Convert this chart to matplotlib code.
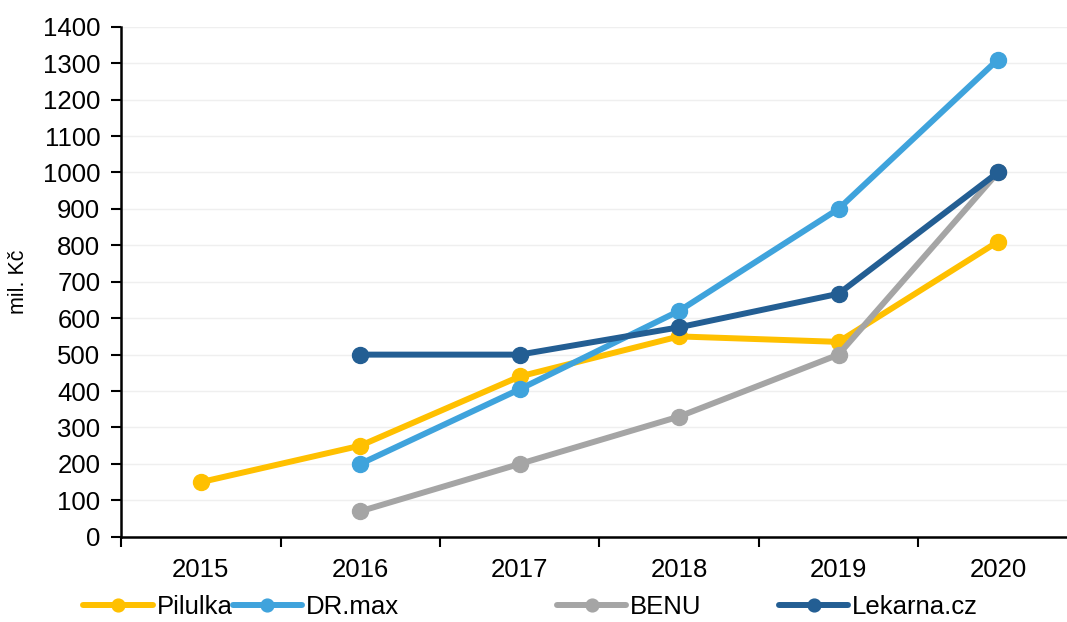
import matplotlib.pyplot as plt
import numpy as np

plt.rcParams['font.family'] = ['Liberation Sans', 'DejaVu Sans']

# data
years = ['2015', '2016', '2017', '2018', '2019', '2020']
pilulka = [150, 250, 440, 550, 535, 810]
drmax = [np.nan, 200, 405, 620, 900, 1310]
benu = [np.nan, 70, 200, 330, 500, 1000]
lekarna = [np.nan, 500, 500, 575, 667, 1000]

series = [
    ('Pilulka', pilulka, '#FFC000'),
    ('DR.max', drmax, '#3FA3DC'),
    ('BENU', benu, '#A5A5A5'),
    ('Lekarna.cz', lekarna, '#235E93'),
]

fig = plt.figure(figsize=(10.67, 6.22), dpi=100)
ax = fig.add_axes([0.1135, 0.137, 0.889, 0.82])

x = np.arange(len(years))
lines = []
for name, vals, col in series:
    ln, = ax.plot(x, vals, color=col, lw=4.3, marker='o', markersize=11.5,
                  label=name, solid_capstyle='round')
    lines.append(ln)

ax.set_ylim(0, 1400)
ax.set_yticks(range(0, 1401, 100))
ax.set_xlim(-0.5, 5.45)
ax.set_xticks(x)
ax.set_xticklabels(years)
ax.set_xticks(np.arange(-0.5, 5.5, 1), minor=True)
ax.tick_params(axis='x', which='major', length=0, pad=15, labelsize=18.5)
ax.tick_params(axis='x', which='minor', length=7, width=1.5, direction='out')
ax.tick_params(axis='y', length=7, width=1.5, direction='out', labelsize=18.5, pad=8)
ax.grid(axis='y', color='#EFEFEF', lw=1)
ax.set_axisbelow(True)

for s in ['top', 'right']:
    ax.spines[s].set_visible(False)
for s in ['left', 'bottom']:
    ax.spines[s].set_linewidth(1.8)
    ax.spines[s].set_color('black')

ax.set_ylabel('mil. Kč', fontsize=15.5, labelpad=10)

# legend entries spread like the original
legend_x = [0.078, 0.218, 0.522, 0.73]
for ln, lx in zip(lines, legend_x):
    fig.legend(handles=[ln], loc='center left', bbox_to_anchor=(lx, 0.024),
               frameon=False, fontsize=18.5, handlelength=2.7, handletextpad=0.15,
               borderpad=0, borderaxespad=0, markerscale=0.8)

fig.savefig('out.png', dpi=100)
